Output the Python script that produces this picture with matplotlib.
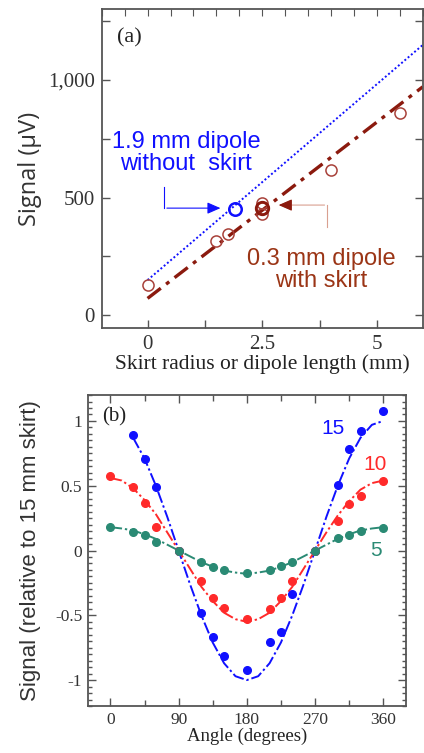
import matplotlib
matplotlib.use("Agg")
import matplotlib.pyplot as plt
from matplotlib.ticker import MultipleLocator, FuncFormatter, FixedLocator

# ---------------- Data panel (a) ----------------
skirt_x = [0.0, 1.5, 1.75, 2.5, 2.5, 2.5, 4.0, 5.5]
skirt_y = [128, 315, 343, 454, 475, 430, 617, 861]
dipole_x = [1.9]
dipole_y = [450]
fit_blue_x = [0.0, 6.0]
fit_blue_y = [149, 1149]
fit_red_x = [0.0, 6.0]
fit_red_y = [71, 971]

# ---------------- Data panel (b) ----------------
angles = [0, 30, 45, 60, 90, 120, 135, 150, 180, 210, 225, 240, 270, 300, 315, 330, 360]
sig15_angles = [30, 45, 60, 90, 120, 135, 150, 180, 210, 225, 240, 270, 300, 315, 330, 360]
sig15 = [0.889, 0.707, 0.487, 0.0, -0.484, -0.671, -0.816, -0.925, -0.705, -0.632,
         -0.334, 0.0, 0.505, 0.78, 0.922, 1.077]
sig10 = [0.572, 0.487, 0.37, 0.184, 0.0, -0.233, -0.368, -0.446, -0.528, -0.453,
         -0.368, -0.233, 0.0, 0.228, 0.357, 0.422, 0.539]
sig5 = [0.184, 0.142, 0.117, 0.065, 0.0, -0.085, -0.127, -0.153, -0.174, -0.148,
        -0.117, -0.085, 0.0, 0.098, 0.117, 0.150, 0.176]

fit_angles = [0, 15, 30, 45, 60, 75, 90, 105, 120, 135, 150, 165, 180,
              195, 210, 225, 240, 255, 270, 285, 300, 315, 330, 345, 360]
fit15_angles = fit_angles[2:]
fit15 = [0.87, 0.71, 0.50, 0.26, 0.0, -0.26, -0.50, -0.71, -0.87, -0.97, -1.0,
         -0.97, -0.87, -0.71, -0.50, -0.26, 0.0, 0.26, 0.50, 0.71, 0.87, 0.97, 1.0]
fit10 = [0.56, 0.54, 0.48, 0.39, 0.28, 0.14, 0.0, -0.14, -0.28, -0.39, -0.48, -0.53, -0.55,
         -0.53, -0.48, -0.39, -0.28, -0.14, 0.0, 0.14, 0.27, 0.38, 0.47, 0.52, 0.54]
fit5 = [0.18, 0.17, 0.155, 0.125, 0.09, 0.045, 0.0, -0.045, -0.09, -0.125, -0.155, -0.17, -0.18,
        -0.17, -0.155, -0.125, -0.09, -0.045, 0.0, 0.045, 0.09, 0.125, 0.155, 0.17, 0.18]

SERIF = ["Liberation Serif", "DejaVu Serif"]
SANS = ["Liberation Sans", "DejaVu Sans"]
SPINE = "#555555"
BLUE = "#1010ff"
DRED = "#8b1a0e"
CIRC = "#a8413a"
RED = "#ff2a2a"
GREEN = "#2a8a74"

fig = plt.figure(figsize=(4.24, 7.53), dpi=100)

# ================= Panel (a) =================
axa = fig.add_axes([0.2399, 0.5644, 0.7571, 0.4236])
axa.set_xlim(-1.0, 6.0)
axa.set_ylim(-55, 1302)
axa.plot(fit_blue_x, fit_blue_y, color=BLUE, lw=1.4, ls=(0, (1, 1.2)), zorder=2)
axa.plot(fit_red_x, fit_red_y, color=DRED, lw=2.4, ls=(0, (5, 2, 1.2, 2)), zorder=2)
axa.plot(skirt_x, skirt_y, ls="none", marker="o", ms=8, mfc="none", mec=CIRC, mew=1.1, zorder=3)
axa.plot(dipole_x, dipole_y, ls="none", marker="o", ms=9, mfc="none", mec=BLUE, mew=1.8, zorder=3)
axa.plot([2.5], [454], ls="none", marker="o", ms=9, mfc="none", mec=DRED, mew=2.0, zorder=3)

axa.xaxis.set_major_locator(FixedLocator([0, 2.5, 5]))
axa.xaxis.set_minor_locator(FixedLocator([1.25, 3.75]))
axa.yaxis.set_major_locator(FixedLocator([0, 500, 1000]))
axa.yaxis.set_minor_locator(FixedLocator([250, 750, 1250]))
axa.xaxis.set_major_formatter(FuncFormatter(lambda v, p: "2.5" if abs(v - 2.5) < 1e-6 else f"{v:g}"))
axa.yaxis.set_major_formatter(FuncFormatter(lambda v, p: f"{int(v):,}"))
axa.tick_params(which="both", direction="in", top=False, right=True, color=SPINE, width=1.0)
axa.tick_params(which="major", length=6, labelsize=15, pad=5)
axa.tick_params(which="minor", length=6)
for lab in axa.get_xticklabels() + axa.get_yticklabels():
    lab.set_family(SERIF)
    lab.set_color("#333333")
axt = axa.secondary_xaxis("top")
axt.xaxis.set_major_locator(MultipleLocator(0.5))
axt.tick_params(direction="in", length=5, color=SPINE, labeltop=False)
axt.spines["top"].set_visible(False)
for s in axa.spines.values():
    s.set_color(SPINE)
    s.set_linewidth(1.3)

axa.set_xlabel("Skirt radius or dipole length (mm)", family=SERIF, fontsize=15.5, labelpad=0, color="#222222")
axa.set_ylabel("Signal (\u03bcV)", family=["Open Sans", "DejaVu Sans"], fontsize=17, labelpad=4, color="#333333")
axa.text(-0.66, 1180, "(a)", family=SERIF, fontsize=16, ha="left", va="center", color="#222222")

axa.text(0.84, 691, "1.9 mm dipole\nwithout  skirt", family=SANS, fontsize=17, color=BLUE,
         ha="center", va="center", linespacing=1.0)
axa.text(3.79, 191, "0.3 mm dipole\nwith skirt", family=SANS, fontsize=17, color="#9b3516",
         ha="center", va="center", linespacing=1.0)
# blue arrow: from below text, down then right
axa.plot([0.36, 0.36], [545, 455], color=BLUE, lw=0.8)
axa.annotate("", xy=(1.65, 455), xytext=(0.36, 455),
             arrowprops=dict(arrowstyle="-|>,head_length=0.8,head_width=0.35", color=BLUE, lw=0.8))
# red arrow
axa.plot([3.92, 3.92], [374, 468], color="#d9a090", lw=0.8)
axa.annotate("", xy=(2.8, 468), xytext=(3.92, 468),
             arrowprops=dict(arrowstyle="-|>,head_length=0.8,head_width=0.35", color="#d9a090", lw=0.8))
axa.annotate("", xy=(2.8, 468), xytext=(3.05, 468),
             arrowprops=dict(arrowstyle="-|>,head_length=0.8,head_width=0.35", color=DRED, lw=0.8))

# ================= Panel (b) =================
axb = fig.add_axes([0.2068, 0.0624, 0.7507, 0.4130])
axb.set_xlim(-30, 390)
axb.set_ylim(-1.2, 1.2)
dd = (0, (6, 1.5, 1.2, 1.5))
axb.plot(fit15_angles, fit15, color=BLUE, lw=1.4, ls=dd, zorder=2)
axb.plot(fit_angles, fit10, color=RED, lw=1.4, ls=dd, zorder=2)
axb.plot(fit_angles, fit5, color=GREEN, lw=1.4, ls=dd, zorder=2)
axb.plot(sig15_angles, sig15, ls="none", marker="o", ms=5.5, color=BLUE, zorder=3)
axb.plot(angles, sig10, ls="none", marker="o", ms=5.5, color=RED, zorder=3)
axb.plot(angles, sig5, ls="none", marker="o", ms=5.5, color=GREEN, zorder=3)

axb.xaxis.set_major_locator(MultipleLocator(90))
axb.xaxis.set_minor_locator(MultipleLocator(45))
axb.yaxis.set_major_locator(MultipleLocator(0.5))
axb.yaxis.set_minor_locator(MultipleLocator(0.05))
axb.yaxis.set_major_formatter(FuncFormatter(lambda v, p: f"{v:g}"))
axb.tick_params(which="both", direction="in", top=True, right=True, color=SPINE, width=1.0)
axb.tick_params(which="major", length=6, labelsize=12.5, pad=4)
axb.tick_params(which="minor", length=3)
axb.tick_params(axis="x", which="minor", length=4)
for lab in axb.get_xticklabels() + axb.get_yticklabels():
    lab.set_family(SERIF)
    lab.set_color("#333333")
for s in axb.spines.values():
    s.set_color(SPINE)
    s.set_linewidth(1.3)

axb.set_xlabel("Angle (degrees)", family=SERIF, fontsize=13.5, labelpad=0, color="#222222")
axb.set_ylabel("Signal (relative to 15 mm skirt)", family=SANS, fontsize=16, labelpad=10, color="#333333")
axb.text(-11.5, 1.03, "(b)", family=SERIF, fontsize=15, ha="left", va="center", color="#222222")
axb.text(294, 0.94, "15", family=SANS, fontsize=15, color=BLUE, ha="center", va="center")
axb.text(349, 0.66, "10", family=SANS, fontsize=15, color=RED, ha="center", va="center")
axb.text(351, 0.0, "5", family=SANS, fontsize=15, color=GREEN, ha="center", va="center")

fig.savefig("out.png", dpi=100)
